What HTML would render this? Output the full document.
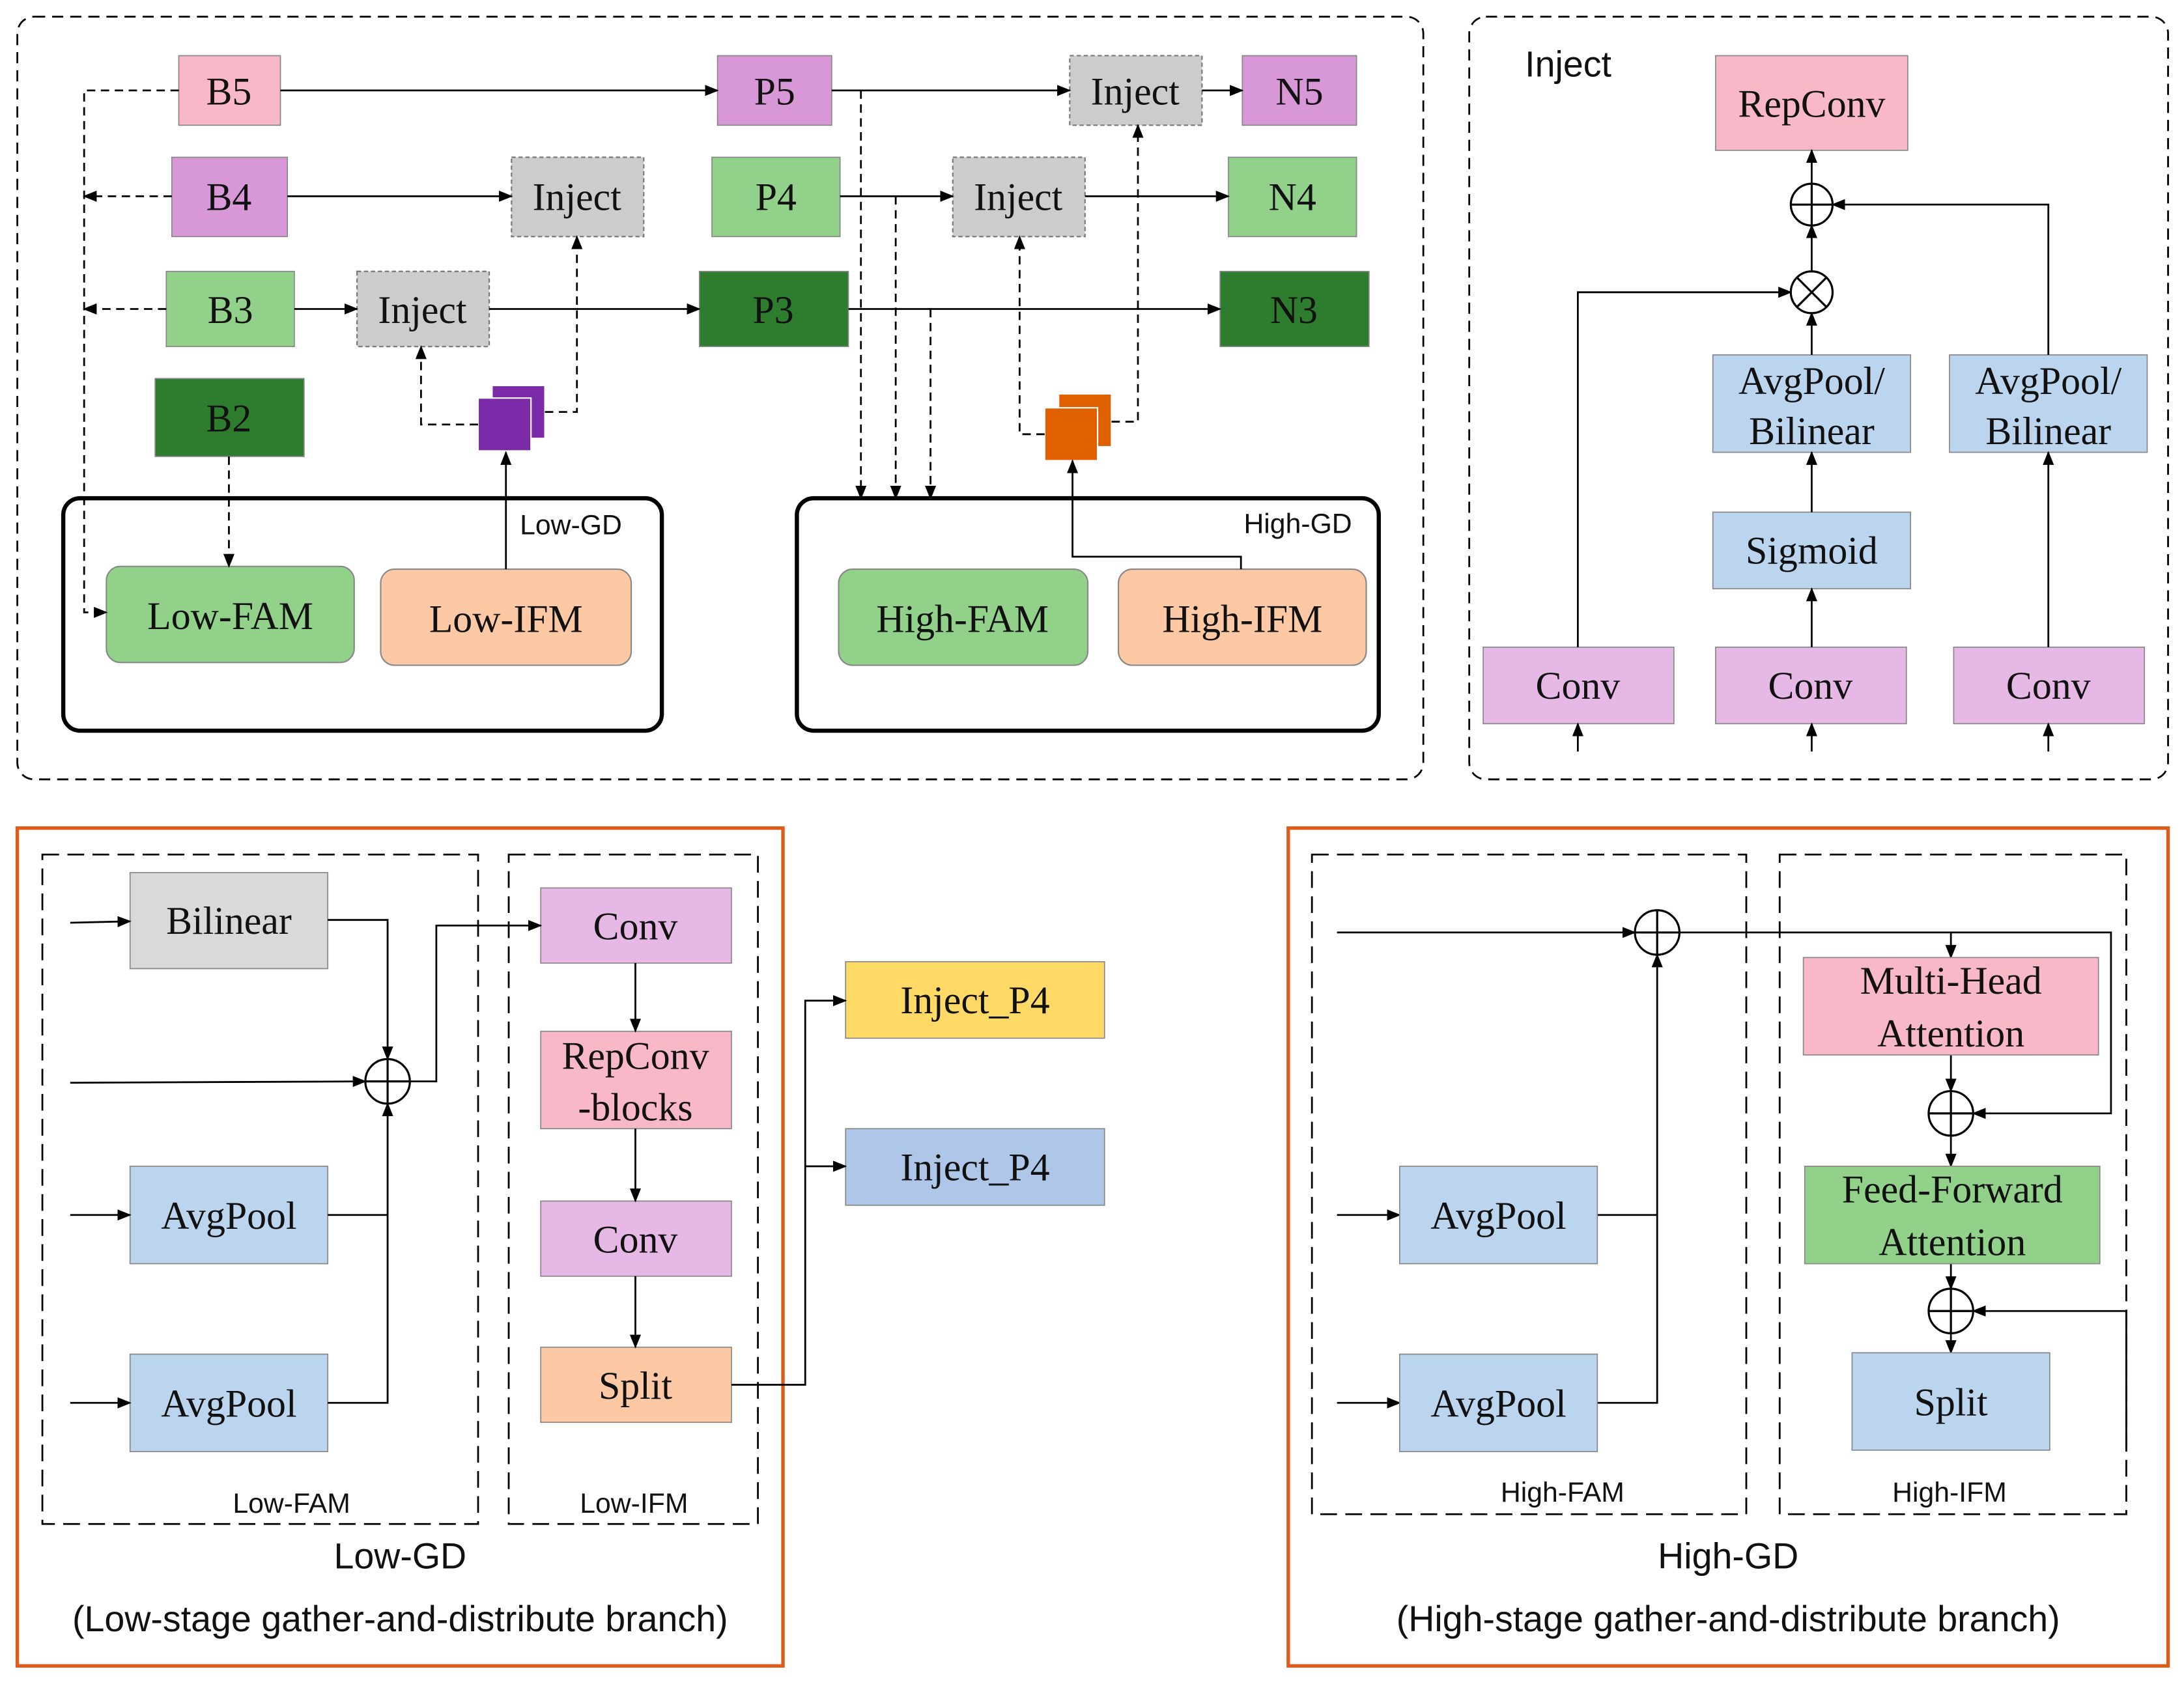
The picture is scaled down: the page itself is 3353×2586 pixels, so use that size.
<!DOCTYPE html>
<html><head><meta charset="utf-8"><style>
html,body{margin:0;padding:0;background:#fff}
svg{display:block}
.s{font-family:"Liberation Serif",serif;font-size:28px;fill:#111}
.a{font-family:"Liberation Sans",sans-serif;fill:#111}
</style></head><body>
<svg width="3353" height="2586" viewBox="0 0 1568 1210" xmlns="http://www.w3.org/2000/svg">
<defs>
<marker id="ar" markerWidth="10" markerHeight="10" refX="9" refY="5" orient="auto" markerUnits="userSpaceOnUse"><path d="M0,1 L10,5 L0,9 z" fill="#000"/></marker>
</defs>
<g fill="none" stroke="#000" stroke-width="1.3">
<rect x="12" y="12" width="1010" height="548" rx="12" stroke-dasharray="8,5"/>
<rect x="1055" y="12" width="502" height="548" rx="12" stroke-dasharray="8,5"/>
<rect x="12" y="595" width="550" height="602" stroke="#e05a1a" stroke-width="2.5"/>
<rect x="925" y="595" width="632" height="602" stroke="#e05a1a" stroke-width="2.5"/>
<rect x="45" y="358" width="430" height="167" rx="12" stroke-width="3"/>
<rect x="572" y="358" width="418" height="167" rx="12" stroke-width="3"/>
<rect x="30" y="614" width="313" height="481" stroke-dasharray="12,6"/>
<rect x="365" y="614" width="179" height="481" stroke-dasharray="12,6"/>
<rect x="942" y="614" width="312" height="474" stroke-dasharray="12,6"/>
<rect x="1278" y="614" width="249" height="474" stroke-dasharray="12,6"/>
</g>
<g stroke="#888" stroke-width="0.8">
<rect x="128" y="40" width="73" height="50" fill="#f9b8c8"/>
<rect x="515" y="40" width="82" height="50" fill="#d898d8"/>
<rect x="892" y="40" width="82" height="50" fill="#d898d8"/>
<rect x="123" y="113" width="83" height="57" fill="#d898d8"/>
<rect x="511" y="113" width="92" height="57" fill="#92d18a"/>
<rect x="882" y="113" width="92" height="57" fill="#92d18a"/>
<rect x="119" y="195" width="92" height="54" fill="#92d18a"/>
<rect x="502" y="195" width="107" height="54" fill="#2e7d2e"/>
<rect x="876" y="195" width="107" height="54" fill="#2e7d2e"/>
<rect x="111" y="272" width="107" height="56" fill="#2e7d2e"/>
</g>
<g fill="#cccccc" stroke="#777" stroke-dasharray="3,2">
<rect x="768" y="40" width="95" height="50"/>
<rect x="367" y="113" width="95" height="57"/>
<rect x="684" y="113" width="95" height="57"/>
<rect x="256" y="195" width="95" height="54"/>
</g>
<rect x="353" y="277" width="38" height="38" fill="#7b2aa8" stroke="#fff"/>
<rect x="343" y="286" width="38" height="38" fill="#7b2aa8" stroke="#fff"/>
<rect x="760" y="283" width="38" height="38" fill="#e06000" stroke="#fff"/>
<rect x="750" y="293" width="38" height="38" fill="#e06000" stroke="#fff"/>
<g stroke="#888">
<rect x="76" y="407" width="178" height="69" rx="10" fill="#92d18a"/>
<rect x="273" y="409" width="180" height="69" rx="10" fill="#fcc9a4"/>
<rect x="602" y="409" width="179" height="69" rx="10" fill="#92d18a"/>
<rect x="803" y="409" width="178" height="69" rx="10" fill="#fcc9a4"/>
</g>
<g class="s" text-anchor="middle">
<text x="164" y="75">B5</text><text x="556" y="75">P5</text><text x="815" y="75">Inject</text><text x="933" y="75">N5</text>
<text x="164" y="151">B4</text><text x="414" y="151">Inject</text><text x="557" y="151">P4</text><text x="731" y="151">Inject</text><text x="928" y="151">N4</text>
<text x="165" y="232">B3</text><text x="303" y="232">Inject</text><text x="555" y="232">P3</text><text x="929" y="232">N3</text>
<text x="164" y="310">B2</text>
<text x="165" y="452">Low-FAM</text><text x="363" y="454">Low-IFM</text>
<text x="691" y="454">High-FAM</text><text x="892" y="454">High-IFM</text>
</g>
<text class="a" x="373" y="384" font-size="20">Low-GD</text>
<text class="a" x="893" y="383" font-size="20">High-GD</text>
<g fill="none" stroke="#000" stroke-width="1.3" marker-end="url(#ar)">
<path d="M201,65 H515"/><path d="M597,65 H768"/><path d="M863,65 H892"/>
<path d="M206,141 H367"/><path d="M603,141 H684"/><path d="M779,141 H882"/>
<path d="M211,222 H256"/><path d="M351,222 H502"/><path d="M609,222 H876"/>
<path d="M363,409 V325"/>
<path d="M891,409 V400 H770 V331"/>
</g>
<g fill="none" stroke="#000" stroke-width="1.3" stroke-dasharray="6,4" marker-end="url(#ar)">
<path d="M128,65 H60 V440 H76"/>
<path d="M123,141 H60"/><path d="M119,222 H60"/>
<path d="M164,328 V407"/>
<path d="M343,305 H302 V249"/>
<path d="M391,296 H414 V170"/>
<path d="M618,65 V358"/><path d="M643,141 V358"/><path d="M668,222 V358"/>
<path d="M750,312 H732 V170"/>
<path d="M798,303 H817 V90"/>
</g>
<text class="a" x="1095" y="55" font-size="26">Inject</text>
<g stroke="#888" stroke-width="0.8">
<rect x="1232" y="40" width="138" height="68" fill="#f9b8c8"/>
<rect x="1230" y="255" width="142" height="70" fill="#bcd5ee"/>
<rect x="1400" y="255" width="142" height="70" fill="#bcd5ee"/>
<rect x="1230" y="368" width="142" height="55" fill="#bcd5ee"/>
<rect x="1065" y="465" width="137" height="55" fill="#e6b8e6"/>
<rect x="1232" y="465" width="137" height="55" fill="#e6b8e6"/>
<rect x="1403" y="465" width="137" height="55" fill="#e6b8e6"/>
</g>
<g class="s" text-anchor="middle">
<text x="1301" y="84">RepConv</text>
<text x="1301" y="283">AvgPool/</text><text x="1301" y="319">Bilinear</text>
<text x="1471" y="283">AvgPool/</text><text x="1471" y="319">Bilinear</text>
<text x="1301" y="405">Sigmoid</text>
<text x="1133" y="502">Conv</text><text x="1300" y="502">Conv</text><text x="1471" y="502">Conv</text>
</g>
<g fill="none" stroke="#000" stroke-width="1.5">
<circle cx="1301" cy="147" r="15"/><path d="M1286,147 H1316 M1301,132 V162"/>
<circle cx="1301" cy="210" r="15"/><path d="M1290,199 L1312,221 M1312,199 L1290,221"/>
</g>
<g fill="none" stroke="#000" stroke-width="1.3" marker-end="url(#ar)">
<path d="M1133,465 V210 H1286"/>
<path d="M1301,465 V423"/><path d="M1301,368 V325"/><path d="M1301,255 V225"/>
<path d="M1301,195 V162"/><path d="M1301,132 V108"/>
<path d="M1471,465 V325"/><path d="M1471,255 V147 H1316"/>
<path d="M1133,540 V520"/><path d="M1301,540 V520"/><path d="M1471,540 V520"/>
</g>
<g stroke="#888" stroke-width="0.8">
<rect x="93" y="627" width="142" height="69" fill="#d9d9d9"/>
<rect x="93" y="838" width="142" height="70" fill="#bcd5ee"/>
<rect x="93" y="973" width="142" height="70" fill="#bcd5ee"/>
<rect x="388" y="638" width="137" height="54" fill="#e6b8e6"/>
<rect x="388" y="741" width="137" height="70" fill="#f9b8c8"/>
<rect x="388" y="863" width="137" height="54" fill="#e6b8e6"/>
<rect x="388" y="968" width="137" height="54" fill="#fcc9a4"/>
<rect x="607" y="691" width="186" height="55" fill="#ffd966"/>
<rect x="607" y="811" width="186" height="55" fill="#aec6e8"/>
</g>
<g class="s" text-anchor="middle">
<text x="164" y="671">Bilinear</text><text x="164" y="883">AvgPool</text><text x="164" y="1018">AvgPool</text>
<text x="456" y="675">Conv</text><text x="456" y="768">RepConv</text><text x="456" y="805">-blocks</text>
<text x="456" y="900">Conv</text><text x="456" y="1005">Split</text>
<text x="700" y="728">Inject_P4</text><text x="700" y="848">Inject_P4</text>
</g>
<g class="a" text-anchor="middle" font-size="20">
<text x="209" y="1087">Low-FAM</text><text x="455" y="1087">Low-IFM</text>
<text x="1122" y="1079">High-FAM</text><text x="1400" y="1079">High-IFM</text>
</g>
<g class="a" text-anchor="middle" font-size="26">
<text x="287" y="1127">Low-GD</text><text x="287" y="1172">(Low-stage gather-and-distribute branch)</text>
<text x="1241" y="1127">High-GD</text><text x="1241" y="1172">(High-stage gather-and-distribute branch)</text>
</g>
<g fill="none" stroke="#000" stroke-width="1.5">
<circle cx="278" cy="777" r="16"/><path d="M262,777 H294 M278,761 V793"/>
<circle cx="1190" cy="670" r="16"/><path d="M1174,670 H1206 M1190,654 V686"/>
<circle cx="1401" cy="800" r="16"/><path d="M1385,800 H1417 M1401,784 V816"/>
<circle cx="1401" cy="942" r="16"/><path d="M1385,942 H1417 M1401,926 V958"/>
</g>
<g fill="none" stroke="#000" stroke-width="1.3">
<path d="M235,873 H278"/><path d="M1147,873 H1190"/>
</g>
<g fill="none" stroke="#000" stroke-width="1.3" marker-end="url(#ar)">
<path d="M50,663 L93,662"/><path d="M50,778 L262,777"/><path d="M50,873 H93"/><path d="M50,1008 H93"/>
<path d="M235,661 H278 V761"/>
<path d="M235,1008 H278 V793"/>
<path d="M294,777 H313 V665 H388"/>
<path d="M456,692 V741"/><path d="M456,811 V863"/><path d="M456,917 V968"/>
<path d="M525,995 H578 V719 H607"/><path d="M578,838 H607"/>
<path d="M960,670 H1174"/><path d="M960,873 H1005"/><path d="M960,1008 H1005"/>
<path d="M1147,1008 H1190 V686"/>
<path d="M1206,670 H1516 V800 H1417"/><path d="M1401,670 V688"/>
<path d="M1401,758 V784"/><path d="M1401,816 V838"/><path d="M1401,908 V926"/><path d="M1401,958 V972"/>
<path d="M1527,1040 V942 H1417"/>
</g>
<g stroke="#888" stroke-width="0.8">
<rect x="1005" y="838" width="142" height="70" fill="#bcd5ee"/>
<rect x="1005" y="973" width="142" height="70" fill="#bcd5ee"/>
<rect x="1295" y="688" width="212" height="70" fill="#f9b8c8"/>
<rect x="1296" y="838" width="212" height="70" fill="#92d18a"/>
<rect x="1330" y="972" width="142" height="70" fill="#bcd5ee"/>
</g>
<g class="s" text-anchor="middle">
<text x="1076" y="883">AvgPool</text><text x="1076" y="1018">AvgPool</text>
<text x="1401" y="714">Multi-Head</text><text x="1401" y="752">Attention</text>
<text x="1402" y="864">Feed-Forward</text><text x="1402" y="902">Attention</text>
<text x="1401" y="1017">Split</text>
</g>
</svg>
</body></html>
